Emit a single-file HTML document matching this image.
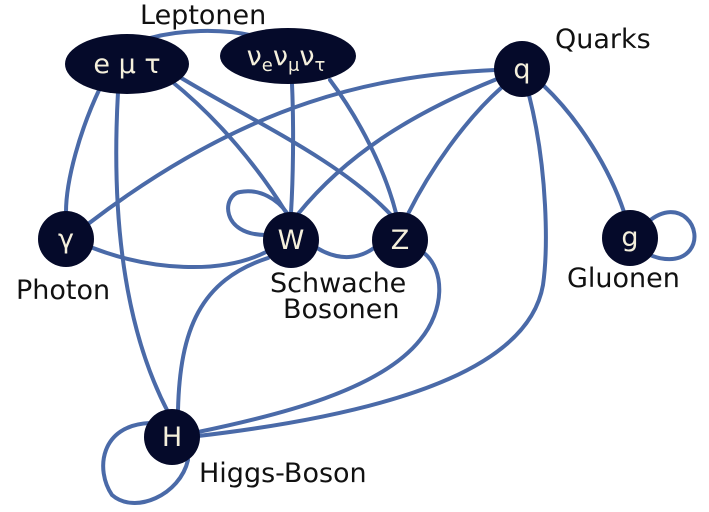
<!DOCTYPE html>
<html><head><meta charset="utf-8"><style>
html,body{margin:0;padding:0;background:#fff;}
svg{display:block;}
text{font-family:"DejaVu Sans","Liberation Sans",sans-serif;}
</style></head><body>
<svg width="709" height="512" viewBox="0 0 709 512">
<g fill="none" stroke="#4a6aa8" stroke-width="4" stroke-linecap="round">
<path d="M150,38 C180,30 220,28 255,36"/>
<path d="M100,88 C80,130 66,180 66,212"/>
<path d="M118,92 C112,200 120,320 168,412"/>
<path d="M170,80 C220,120 260,170 287,214"/>
<path d="M178,76 C250,120 340,160 392,216"/>
<path d="M292,84 C294,130 293,180 291,213"/>
<path d="M330,80 C360,120 385,170 396,213"/>
<path d="M495,70 C380,75 250,100 88,224"/>
<path d="M497,79 C420,110 350,150 298,214"/>
<path d="M501,88 C465,120 430,170 408,214"/>
<path d="M529,95 C548,170 548,250 543,285 C530,360 420,410 198,436"/>
<path d="M543,85 C580,120 610,170 624,212"/>
<path d="M648,222 C680,195 705,230 690,250 C680,263 660,260 648,254"/>
<path d="M266,235 C220,235 222,195 240,192 C260,188 278,200 287,213"/>
<path d="M317,248 C340,262 360,258 374,248"/>
<path d="M93,248 C150,270 220,275 266,252"/>
<path d="M268,258 C200,280 180,330 178,410"/>
<path d="M424,253 C445,270 445,310 420,340 C380,390 280,415 198,432"/>
<path d="M150,423 C100,425 95,470 112,495 C135,515 180,495 188,460"/>
</g>
<g fill="#050a2a">
<ellipse cx="127" cy="64" rx="62" ry="30"/>
<ellipse cx="288" cy="56" rx="68" ry="28"/>
<circle cx="522" cy="69" r="28"/>
<circle cx="66" cy="239" r="28"/>
<circle cx="291" cy="240" r="28"/>
<circle cx="400" cy="240" r="28"/>
<circle cx="630" cy="238" r="28"/>
<circle cx="172" cy="437" r="28"/>
</g>
<g fill="#f5f0dc" font-size="27" text-anchor="middle">
<text x="127" y="73">e μ τ</text>
<text x="286" y="65">ν<tspan font-size="18" dy="6">e</tspan><tspan dy="-6">ν</tspan><tspan font-size="18" dy="6">μ</tspan><tspan dy="-6">ν</tspan><tspan font-size="18" dy="6">τ</tspan></text>
<text x="522" y="78">q</text>
<text x="66" y="248">γ</text>
<text x="291" y="249">W</text>
<text x="400" y="249">Z</text>
<text x="630" y="246">g</text>
<text x="172" y="446">H</text>
</g>
<g fill="#111" font-size="27">
<text x="140" y="24">Leptonen</text>
<text x="555" y="48">Quarks</text>
<text x="16" y="299">Photon</text>
<text x="270" y="292">Schwache</text>
<text x="283" y="318">Bosonen</text>
<text x="567" y="287">Gluonen</text>
<text x="199" y="482">Higgs-Boson</text>
</g>
</svg>
</body></html>
